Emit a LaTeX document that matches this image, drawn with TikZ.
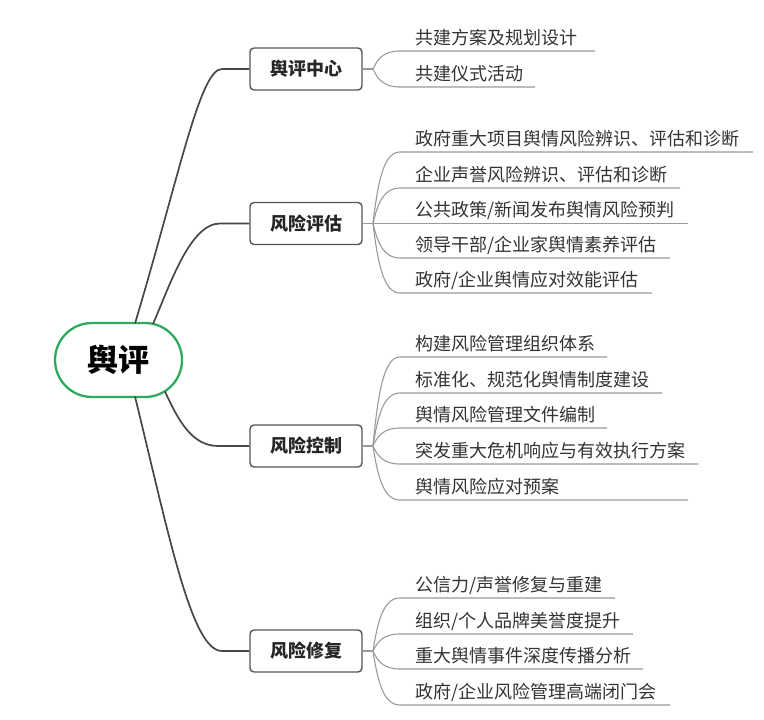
\documentclass[tikz,border=0pt]{standalone}
\usepackage{fontspec}
\setmainfont{Noto Sans CJK SC}
\usetikzlibrary{calc,shapes.misc}
\definecolor{rootgreen}{HTML}{2EAA5E}
\definecolor{boxgray}{HTML}{555555}
\definecolor{linedark}{HTML}{474747}
\definecolor{linegray}{HTML}{9A9A9A}
\definecolor{textgray}{HTML}{333333}
\newcommand{\leafitem}[6]{%
  \node[leaf] (#1) at (415,#4-7) {#6};
  \coordinate (#1s) at (400,#4);
  \coordinate (#1e) at (#5,#4);
  \draw[subline] (#2) .. controls (378,{#3+0.6*(#4-#3)}) and (384,#4) .. (#1s) -- (#1e);
}
\begin{document}
\begin{tikzpicture}[x=1pt,y=-1pt,
  rootnode/.style={rounded rectangle, draw=rootgreen, line width=2.3pt, fill=white,
    minimum width=127pt, minimum height=74pt, inner sep=0pt,
    font=\fontsize{31}{31}\selectfont\bfseries, text=black},
  topic/.style={draw=boxgray, line width=1.4pt, rounded corners=4pt, fill=white,
    minimum width=112pt, minimum height=42pt, inner sep=0pt,
    font=\fontsize{18}{18}\selectfont\bfseries, text=black!85},
  leaf/.style={anchor=base west, inner sep=0pt, font=\fontsize{18}{18}\selectfont, text=textgray},
  mainline/.style={draw=linedark, line width=1.7pt},
  subline/.style={draw=linegray, line width=1.1pt},
]
\useasboundingbox (0,0) rectangle (764,720);

% root
\node[rootnode] (root) at (118.5,360) {舆评};

% topics
\node[topic] (t1) at (306,69) {舆评中心};
\node[topic] (t2) at (306,223.5) {风险评估};
\node[topic] (t3) at (306,446) {风险控制};
\node[topic] (t4) at (306,651) {风险修复};

% root connectors
\coordinate (r1) at (135,323.5);
\coordinate (r2) at (153,324);
\coordinate (r3) at (165,391.5);
\coordinate (r4) at (135,396.5);
\coordinate (e1) at (222,69);
\coordinate (e2) at (220,223.5);
\coordinate (e3) at (218,446);
\coordinate (e4) at (222,651);
\draw[mainline] (r1) .. controls (180,173) and (200,69) .. (e1) -- (t1.west);
\draw[mainline] (r2) .. controls (170,285) and (190,223.5) .. (e2) -- (t2.west);
\draw[mainline] (r3) .. controls (178,420) and (192,446) .. (e3) -- (t3.west);
\draw[mainline] (r4) .. controls (170,540) and (192,651) .. (e4) -- (t4.west);

% branch points
\coordinate (b1) at (373,69);
\coordinate (b2) at (373,223.5);
\coordinate (b3) at (373,446);
\coordinate (b4) at (373,651);
\draw[subline] (t1.east) -- (b1);
\draw[subline] (t2.east) -- (b2);
\draw[subline] (t3.east) -- (b3);
\draw[subline] (t4.east) -- (b4);

% leaves
\leafitem{l11}{b1}{69}{51}{595}{共建方案及规划设计}
\leafitem{l12}{b1}{69}{87}{535}{共建仪式活动}

\leafitem{l21}{b2}{223.5}{152}{753}{政府重大项目舆情风险辨识、评估和诊断}
\leafitem{l22}{b2}{223.5}{188}{680}{企业声誉风险辨识、评估和诊断}
\leafitem{l23}{b2}{223.5}{223.5}{688}{公共政策/新闻发布舆情风险预判}
\leafitem{l24}{b2}{223.5}{258}{670}{领导干部/企业家舆情素养评估}
\leafitem{l25}{b2}{223.5}{293}{652}{政府/企业舆情应对效能评估}

\leafitem{l31}{b3}{446}{357}{607}{构建风险管理组织体系}
\leafitem{l32}{b3}{446}{393}{662}{标准化、规范化舆情制度建设}
\leafitem{l33}{b3}{446}{428}{607}{舆情风险管理文件编制}
\leafitem{l34}{b3}{446}{464}{698}{突发重大危机响应与有效执行方案}
\leafitem{l35}{b3}{446}{500}{688}{舆情风险应对预案}

\leafitem{l41}{b4}{651}{598}{615}{公信力/声誉修复与重建}
\leafitem{l42}{b4}{651}{634}{633}{组织/个人品牌美誉度提升}
\leafitem{l43}{b4}{651}{669}{643}{重大舆情事件深度传播分析}
\leafitem{l44}{b4}{651}{705}{670}{政府/企业风险管理高端闭门会}
\end{tikzpicture}
\end{document}
